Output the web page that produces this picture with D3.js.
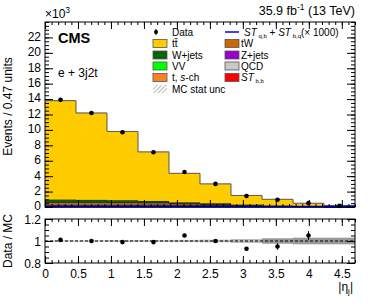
<!DOCTYPE html>
<html lang="en">
<head>
<meta charset="UTF-8">
<title>eta_j</title>
<script src="https://d3js.org/d3.v7.min.js"></script>
<style>
  body { margin: 0; background: #fff; }
  text { font-family: "Liberation Sans", Arial, sans-serif; fill: #000; }
</style>
</head>
<body>
<svg width="374" height="307"></svg>
<script>
// bin edges in |eta_j|, width 0.47
var edges = [0, 0.47, 0.94, 1.41, 1.88, 2.35, 2.82, 3.29, 3.76, 4.23, 4.7];

// stacked backgrounds, x10^3 events, bottom to top
var stbb  = [0.15, 0.15, 0.15, 0.18, 0.2, 0.2, 0.15, 0.1, 0.05, 0.02];
var qcd   = [0.08, 0.08, 0.08, 0.06, 0.05, 0.04, 0.02, 0.01, 0.01, 0.0];
var zjets = [0.06, 0.06, 0.06, 0.06, 0.05, 0.04, 0.02, 0.01, 0.01, 0.0];
var tw    = [0.3, 0.3, 0.28, 0.25, 0.15, 0.1, 0.06, 0.03, 0.02, 0.01];
var tsch  = [0.05, 0.04, 0.04, 0.03, 0.02, 0.01, 0.01, 0.0, 0.0, 0.0];
var vv    = [0.02, 0.02, 0.02, 0.01, 0.01, 0.01, 0.0, 0.0, 0.0, 0.0];
var wjets = [0.3, 0.28, 0.25, 0.2, 0.12, 0.08, 0.05, 0.03, 0.02, 0.01];
var ttbar = [12.84, 11.27, 8.92, 6.36, 3.77, 2.52, 1.19, 0.82, 0.38, 0.16];
var stqb  = [0.03, 0.03, 0.03, 0.03, 0.03, 0.03, 0.03, 0.03, 0.03, 0.03];
var mcUnc = [0.08, 0.07, 0.06, 0.05, 0.04, 0.03, 0.03, 0.02, 0.02, 0.01];

// data
var dataVal = [13.9, 12.2, 9.7, 7.1, 4.55, 3.0, 1.42, 0.95, 0.5, 0.15];
var dataErr = [0.12, 0.11, 0.1, 0.08, 0.07, 0.05, 0.04, 0.03, 0.02, 0.01];
var ratio    = [1.01, 1.0, 0.99, 0.99, 1.05, 1.0, 0.93, 0.95, 1.05];
var ratioErr = [0.008, 0.008, 0.01, 0.012, 0.015, 0.018, 0.015, 0.03, 0.04];
var ratioBand = [0.006, 0.006, 0.008, 0.008, 0.01, 0.012, 0.018, 0.025, 0.03, 0.03];

var yTicksMain = [0, 2, 4, 6, 8, 10, 12, 14, 16, 18, 20, 22];
var xTicks = [0, 0.5, 1, 1.5, 2, 2.5, 3, 3.5, 4, 4.5];
var rTicks = [0.8, 1, 1.2];

var comps = [
  {name: 'stbb', vals: stbb, color: '#ff0000'},
  {name: 'qcd', vals: qcd, color: '#c8c8c8'},
  {name: 'zjets', vals: zjets, color: '#9900cc'},
  {name: 'tw', vals: tw, color: '#cc6600'},
  {name: 'tsch', vals: tsch, color: '#ff7f24'},
  {name: 'vv', vals: vv, color: '#00ff00'},
  {name: 'wjets', vals: wjets, color: '#006600'},
  {name: 'ttbar', vals: ttbar, color: '#ffcc00'}
];

var svg = d3.select('svg');
var L = 45, R = 355, T = 22, B = 207, RT = 219, RB = 263;

var x = d3.scaleLinear().domain([0, 4.7]).range([L, R]);
var y = d3.scaleLinear().domain([0, 24]).range([B, T]);
var yr = d3.scaleLinear().domain([0.8, 1.2]).range([RB, RT]);

var defs = svg.append('defs');
var pat = defs.append('pattern').attr('id', 'hatch').attr('patternUnits', 'userSpaceOnUse')
  .attr('width', 3).attr('height', 3).attr('patternTransform', 'rotate(45)');
pat.append('line').attr('x1', 0).attr('y1', 0).attr('x2', 0).attr('y2', 3)
  .attr('stroke', '#777').attr('stroke-width', 1);

// stack
var cum = edges.slice(1).map(function () { return 0; });
comps.forEach(function (c) {
  svg.append('g').selectAll('rect').data(c.vals).enter().append('rect')
    .attr('x', function (d, i) { return x(edges[i]); })
    .attr('width', function (d, i) { return x(edges[i + 1]) - x(edges[i]); })
    .attr('y', function (d, i) { return y(cum[i] + d); })
    .attr('height', function (d, i) { return y(cum[i]) - y(cum[i] + d); })
    .attr('fill', c.color);
  // outline of component
  var line = [];
  c.vals.forEach(function (d, i) {
    line.push([x(edges[i]), y(cum[i] + d)]);
    line.push([x(edges[i + 1]), y(cum[i] + d)]);
  });
  svg.append('path').attr('d', d3.line()(line)).attr('fill', 'none')
    .attr('stroke', c.name === 'ttbar' ? '#555' : '#222').attr('stroke-width', 1);
  c.vals.forEach(function (d, i) { cum[i] += d; });
});

// MC stat unc hatch
svg.append('g').selectAll('rect').data(mcUnc).enter().append('rect')
  .attr('x', function (d, i) { return x(edges[i]); })
  .attr('width', function (d, i) { return x(edges[i + 1]) - x(edges[i]); })
  .attr('y', function (d, i) { return y(cum[i] + d); })
  .attr('height', function (d, i) { return y(cum[i] - d) - y(cum[i] + d); })
  .attr('fill', 'url(#hatch)');

// ST q,b signal line
var sl = [];
stqb.forEach(function (d, i) { sl.push([x(edges[i]), y(d)]); sl.push([x(edges[i + 1]), y(d)]); });
svg.append('path').attr('d', d3.line()(sl)).attr('fill', 'none').attr('stroke', '#0000ff').attr('stroke-width', 2);

// data points
var dg = svg.append('g');
dataVal.forEach(function (d, i) {
  var cx = x((edges[i] + edges[i + 1]) / 2);
  dg.append('line').attr('x1', cx).attr('x2', cx).attr('y1', y(d - dataErr[i])).attr('y2', y(d + dataErr[i]))
    .attr('stroke', '#000');
  dg.append('circle').attr('cx', cx).attr('cy', y(d)).attr('r', 2.3).attr('fill', '#000');
});

// axes helpers
function drawAxes(ys, yMajor, yMinor, top, bottom, showX, labelShift) {
  var gl = svg.append('g').attr('transform', 'translate(' + L + ',' + labelShift + ')');
  gl.call(d3.axisLeft(ys).tickValues(yMajor).tickSize(0).tickPadding(4).tickFormat(d3.format('~g')));
  svg.append('g').attr('transform', 'translate(' + L + ',0)')
    .call(d3.axisLeft(ys).tickValues(yMajor).tickSize(-8).tickFormat(''));
  svg.append('g').attr('transform', 'translate(' + L + ',0)')
    .call(d3.axisLeft(ys).tickValues(yMinor).tickSize(-4).tickFormat(''));
  svg.append('g').attr('transform', 'translate(' + R + ',0)')
    .call(d3.axisRight(ys).tickValues(yMajor).tickSize(-8).tickFormat(''));
  svg.append('g').attr('transform', 'translate(' + R + ',0)')
    .call(d3.axisRight(ys).tickValues(yMinor).tickSize(-4).tickFormat(''));
  var xMinor = d3.range(0, 4.71, 0.1);
  var gb = svg.append('g').attr('transform', 'translate(0,' + bottom + ')');
  gb.call(d3.axisBottom(x).tickValues(xTicks).tickSize(-7).tickPadding(6)
    .tickFormat(showX ? d3.format('~g') : ''));
  svg.append('g').attr('transform', 'translate(0,' + bottom + ')')
    .call(d3.axisBottom(x).tickValues(xMinor).tickSize(-3).tickFormat(''));
  svg.append('g').attr('transform', 'translate(0,' + top + ')')
    .call(d3.axisTop(x).tickValues(xTicks).tickSize(-7).tickFormat(''));
  svg.append('g').attr('transform', 'translate(0,' + top + ')')
    .call(d3.axisTop(x).tickValues(xMinor).tickSize(-3).tickFormat(''));
  svg.selectAll('.domain').remove();
  svg.append('rect').attr('x', L).attr('y', top).attr('width', R - L).attr('height', bottom - top)
    .attr('fill', 'none').attr('stroke', '#000').attr('stroke-width', 1);
}

drawAxes(y, yTicksMain, d3.range(0, 24.01, 0.5), T, B, false, -1);

// ratio panel
var bandG = svg.append('g');
ratioBand.forEach(function (d, i) {
  bandG.append('rect').attr('x', x(edges[i])).attr('width', x(edges[i + 1]) - x(edges[i]))
    .attr('y', yr(1 + d)).attr('height', yr(1 - d) - yr(1 + d))
    .attr('fill', i >= 7 ? '#999' : '#bbb');
});
svg.append('line').attr('x1', L).attr('x2', R).attr('y1', yr(1)).attr('y2', yr(1))
  .attr('stroke', '#000').attr('stroke-dasharray', '3,2');
var rg = svg.append('g');
ratio.forEach(function (d, i) {
  var cx = x((edges[i] + edges[i + 1]) / 2);
  rg.append('line').attr('x1', cx).attr('x2', cx).attr('y1', yr(d - ratioErr[i])).attr('y2', yr(d + ratioErr[i]))
    .attr('stroke', '#000');
  rg.append('circle').attr('cx', cx).attr('cy', yr(d)).attr('r', 2.3).attr('fill', '#000');
});
drawAxes(yr, rTicks, d3.range(0.8, 1.201, 0.05), RT, RB, true, 1);

svg.selectAll('.tick text').style('font-size', '12px').style('font-family', '"Liberation Sans", Arial, sans-serif');

// labels
svg.append('text').attr('transform', 'translate(12,' + ((T + B) / 2 - 8) + ') rotate(-90)')
  .attr('text-anchor', 'middle').style('font-size', '12px').text('Events / 0.47 units');
svg.append('text').attr('transform', 'translate(12,241) rotate(-90)')
  .attr('text-anchor', 'middle').style('font-size', '12px').text('Data / MC');
var xl = svg.append('text').attr('x', 353).attr('y', 291).attr('text-anchor', 'end').style('font-size', '12px');
xl.append('tspan').text('|η');
xl.append('tspan').attr('dy', 3).style('font-size', '8px').text('j');
xl.append('tspan').attr('dy', -3).text('|');

var xt = svg.append('text').attr('x', 45).attr('y', 18).style('font-size', '12px');
xt.append('tspan').text('×10');
xt.append('tspan').attr('dy', -5).style('font-size', '8.5px').text('3');

var lumi = svg.append('text').attr('x', 355).attr('y', 15).attr('text-anchor', 'end').style('font-size', '12.5px');
lumi.append('tspan').text('35.9 fb');
lumi.append('tspan').attr('dy', -5).style('font-size', '8.5px').text('-1');
lumi.append('tspan').attr('dy', 5).text('  (13 TeV)');

svg.append('text').attr('x', 58).attr('y', 43).style('font-size', '14.5px').style('font-weight', 'bold').text('CMS');
svg.append('text').attr('x', 58).attr('y', 77).style('font-size', '12px').text('e + 3j2t');

// legend
var leg = svg.append('g').style('font-size', '10px');
var col1 = [
  {t: 'Data', type: 'point'},
  {t: 'tt̄', c: '#ffcc00'},
  {t: 'W+jets', c: '#006600'},
  {t: 'VV', c: '#00ff00'},
  {t: 't, s-ch', c: '#ff7f24', ital: true},
  {t: 'MC stat unc', type: 'hatch'}
];
var col2 = [
  {t: 'ST', type: 'line'},
  {t: 'tW', c: '#cc6600'},
  {t: 'Z+jets', c: '#9900cc'},
  {t: 'QCD', c: '#c8c8c8'},
  {t: 'ST', c: '#ff0000', sub: 'b,b'}
];
var rowY = [32, 43.5, 55, 66, 77.5, 89];
function legBox(xb, yc, c, fill) {
  leg.append('rect').attr('x', xb).attr('y', yc - 4).attr('width', 14).attr('height', 8)
    .attr('fill', fill || c).attr('stroke', '#555').attr('stroke-width', 0.8);
}
col1.forEach(function (e, i) {
  var yc = rowY[i];
  if (e.type === 'point') {
    leg.append('circle').attr('cx', 156).attr('cy', yc).attr('r', 2).attr('fill', '#000');
    leg.append('line').attr('x1', 156).attr('x2', 156).attr('y1', yc - 3).attr('y2', yc + 3).attr('stroke', '#000');
  } else if (e.type === 'hatch') {
    leg.append('rect').attr('x', 153).attr('y', yc - 4).attr('width', 14).attr('height', 8).attr('fill', 'url(#hatch)');
  } else {
    legBox(153, yc, e.c);
  }
  var tx = leg.append('text').attr('x', 172).attr('y', yc + 3.5);
  if (e.ital) {
    tx.append('tspan').text('t, ');
    tx.append('tspan').style('font-style', 'italic').text('s');
    tx.append('tspan').text('-ch');
  } else {
    tx.text(e.t);
  }
});
col2.forEach(function (e, i) {
  var yc = rowY[i];
  if (e.type === 'line') {
    leg.append('line').attr('x1', 225).attr('x2', 239).attr('y1', yc).attr('y2', yc)
      .attr('stroke', '#0000ff').attr('stroke-width', 1.5);
    var t = leg.append('text').attr('x', 244).attr('y', yc + 3.5);
    t.append('tspan').style('font-style', 'italic').text('ST');
    t.append('tspan').attr('dy', 2).style('font-size', '6px').text(' q,b');
    t.append('tspan').attr('dy', -2).text(' + ');
    t.append('tspan').style('font-style', 'italic').text('ST');
    t.append('tspan').attr('dy', 2).style('font-size', '6px').text(' b,q');
    t.append('tspan').attr('dy', -2).text('(× 1000)');
  } else {
    legBox(225, yc, e.c);
    var t2 = leg.append('text').attr('x', 241).attr('y', yc + 3.5);
    if (e.sub) {
      t2.append('tspan').style('font-style', 'italic').text(e.t);
      t2.append('tspan').attr('dy', 2).style('font-size', '6px').text(' ' + e.sub);
    } else {
      t2.text(e.t);
    }
  }
});
</script>
</body>
</html>
